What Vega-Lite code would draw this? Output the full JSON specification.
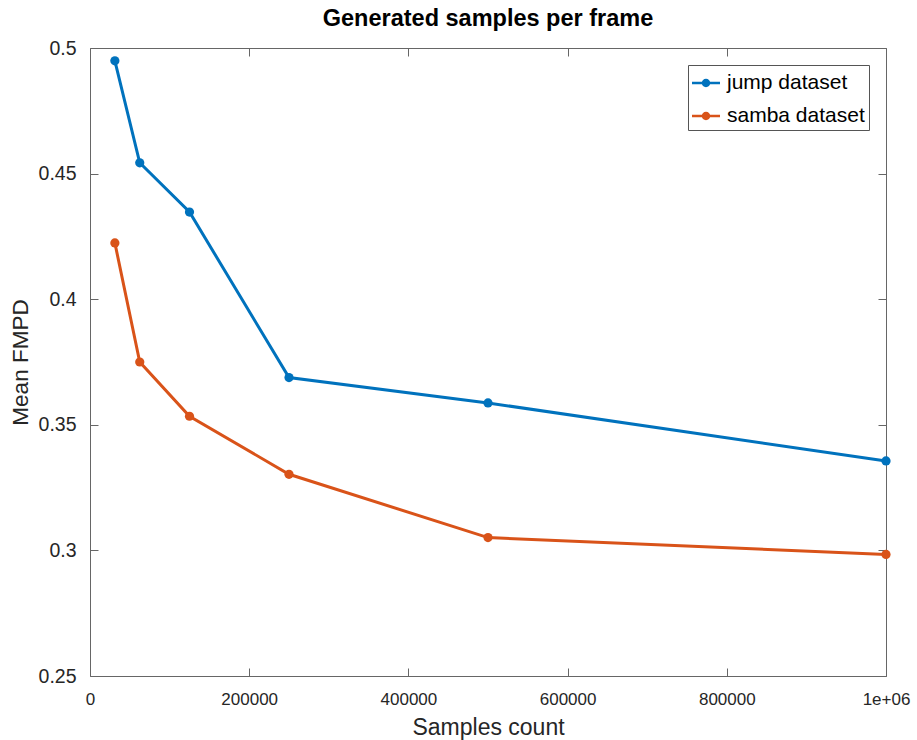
{
  "$schema": "https://vega.github.io/schema/vega-lite/v6.json",
  "width": 796,
  "height": 628,
  "autosize": "none",
  "padding": {"left": 90, "top": 48, "right": 31, "bottom": 64},
  "background": "white",
  "title": {"text": "Generated samples per frame", "font": "Liberation Sans", "fontSize": 23.5, "fontWeight": "bold", "color": "#000000", "offset": 8},
  "config": {
    "view": {"stroke": null},
    "font": "Liberation Sans"
  },
  "data": {"values": [
    {"samples": 31250, "fmpd": 0.4949, "series": "jump dataset"},
    {"samples": 62500, "fmpd": 0.4543, "series": "jump dataset"},
    {"samples": 125000, "fmpd": 0.4347, "series": "jump dataset"},
    {"samples": 250000, "fmpd": 0.3688, "series": "jump dataset"},
    {"samples": 500000, "fmpd": 0.3587, "series": "jump dataset"},
    {"samples": 1000000, "fmpd": 0.3356, "series": "jump dataset"},
    {"samples": 31250, "fmpd": 0.4224, "series": "samba dataset"},
    {"samples": 62500, "fmpd": 0.3750, "series": "samba dataset"},
    {"samples": 125000, "fmpd": 0.3534, "series": "samba dataset"},
    {"samples": 250000, "fmpd": 0.3303, "series": "samba dataset"},
    {"samples": 500000, "fmpd": 0.3051, "series": "samba dataset"},
    {"samples": 1000000, "fmpd": 0.2984, "series": "samba dataset"}
  ]},
  "layer": [
    {
      "mark": {"type": "line", "strokeWidth": 3, "point": {"size": 85, "filled": true, "opacity": 1}},
      "encoding": {
        "x": {"field": "samples", "type": "quantitative", "scale": {"domain": [0, 1000000], "nice": false},
          "axis": {"orient": "bottom", "title": "Samples count", "values": [0, 200000, 400000, 600000, 800000, 1000000],
            "labelExpr": "datum.value == 1000000 ? '1e+06' : '' + datum.value",
            "grid": false, "tickSize": -8, "tickColor": "#666666", "domainColor": "#666666", "labelPadding": 23,
            "labelFontSize": 17, "labelColor": "#262626", "titleFontSize": 23, "titleFontWeight": "normal", "titleColor": "#262626", "titlePadding": 9,
            "labelFlush": false}},
        "y": {"field": "fmpd", "type": "quantitative", "scale": {"domain": [0.25, 0.5], "nice": false, "zero": false},
          "axis": {"orient": "left", "title": "Mean FMPD", "values": [0.25, 0.3, 0.35, 0.4, 0.45, 0.5], "format": "~g",
            "grid": false, "tickSize": -8, "tickColor": "#666666", "domainColor": "#666666", "labelPadding": 22,
            "labelFontSize": 19.5, "labelColor": "#262626", "titleFontSize": 22.5, "titleFontWeight": "normal", "titleColor": "#262626", "titlePadding": 6}},
        "color": {"field": "series", "type": "nominal",
          "scale": {"domain": ["jump dataset", "samba dataset"], "range": ["#0072BD", "#D95319"]},
          "legend": {"title": null, "orient": "top-right", "offset": 17, "strokeColor": "#555555", "fillColor": "white",
            "padding": 4, "labelFontSize": 21, "labelColor": "#000000", "rowPadding": 9, "labelOffset": 7,
            "symbolType": "M-1,-0.09L1,-0.09L1,0.09L-1,0.09Z M0.3,0A0.3,0.3 0 1,1 -0.3,0A0.3,0.3 0 1,1 0.3,0Z",
            "symbolSize": 784, "symbolStrokeWidth": 0, "symbolOpacity": 1}}
      }
    },
    {
      "mark": {"type": "point", "opacity": 0},
      "encoding": {
        "x": {"field": "samples", "type": "quantitative", "scale": {"domain": [0, 1000000], "nice": false},
          "axis": {"orient": "top", "title": null, "labels": false, "values": [0, 200000, 400000, 600000, 800000, 1000000],
            "grid": false, "tickSize": -8, "tickColor": "#666666", "domainColor": "#666666"}},
        "y": {"field": "fmpd", "type": "quantitative", "scale": {"domain": [0.25, 0.5], "nice": false, "zero": false},
          "axis": {"orient": "right", "title": null, "labels": false, "values": [0.25, 0.3, 0.35, 0.4, 0.45, 0.5],
            "grid": false, "tickSize": -8, "tickColor": "#666666", "domainColor": "#666666"}}
      }
    }
  ],
  "resolve": {"axis": {"x": "independent", "y": "independent"}}
}
